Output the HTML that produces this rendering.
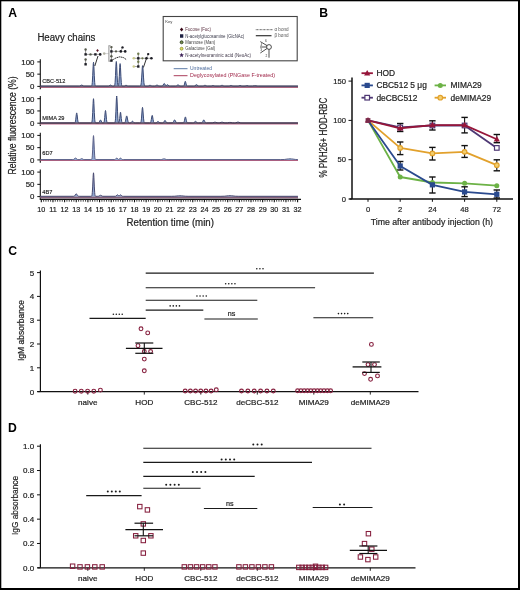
<!DOCTYPE html>
<html><head><meta charset="utf-8"><style>
html,body{margin:0;padding:0;background:#fff;}
svg{display:block;filter:contrast(1.0001);}
text{font-family:"Liberation Sans",sans-serif;}
</style></head><body>
<svg width="520" height="590" viewBox="0 0 520 590" font-family="Liberation Sans, sans-serif">
<rect x="0" y="0" width="520" height="590" fill="#fff"/>
<rect x="0" y="0" width="520" height="1.3" fill="#000"/>
<rect x="0" y="0" width="1.3" height="590" fill="#000"/>
<rect x="518" y="0" width="2" height="590" fill="#000"/>
<rect x="0" y="588" width="520" height="2" fill="#000"/>
<text x="8.20" y="16.90" font-size="12.2" text-anchor="start" fill="#000" font-weight="bold">A</text>
<text x="319.30" y="16.70" font-size="12.2" text-anchor="start" fill="#000" font-weight="bold">B</text>
<text x="8.20" y="254.90" font-size="12.2" text-anchor="start" fill="#000" font-weight="bold">C</text>
<text x="7.90" y="431.80" font-size="12.2" text-anchor="start" fill="#000" font-weight="bold">D</text>
<text x="37.40" y="40.80" font-size="10" text-anchor="start" fill="#222" stroke="#222" stroke-width="0.2" textLength="58" lengthAdjust="spacingAndGlyphs">Heavy chains</text>
<text x="15.60" y="125.50" font-size="10.4" text-anchor="middle" fill="#222" stroke="#222" stroke-width="0.2" textLength="98" lengthAdjust="spacingAndGlyphs" transform="rotate(-90 15.60 125.50)">Relative fluorescence (%)</text>
<line x1="40.30" y1="59.20" x2="40.30" y2="89.20" stroke="#111" stroke-width="1.1"/>
<line x1="37.30" y1="61.90" x2="40.30" y2="61.90" stroke="#111" stroke-width="1"/>
<text x="34.50" y="64.70" font-size="7.9" text-anchor="end" fill="#222" stroke="#222" stroke-width="0.2">100</text>
<line x1="37.30" y1="74.15" x2="40.30" y2="74.15" stroke="#111" stroke-width="1"/>
<text x="34.50" y="76.95" font-size="7.9" text-anchor="end" fill="#222" stroke="#222" stroke-width="0.2">50</text>
<line x1="37.30" y1="86.40" x2="40.30" y2="86.40" stroke="#111" stroke-width="1"/>
<text x="34.50" y="89.20" font-size="7.9" text-anchor="end" fill="#222" stroke="#222" stroke-width="0.2">0</text>
<text x="42.30" y="83.20" font-size="5.6" text-anchor="start" fill="#222" stroke="#222" stroke-width="0.15">CBC-512</text>
<path d="M40.3,87.00 L298,87.00" stroke="#8e3556" stroke-width="1.3" fill="none"/>
<path d="M40.5,86.10 L78.9,86.09 L79.5,86.05 L80.1,85.89 L81.3,85.19 L81.7,85.10 L82.1,85.19 L83.3,85.89 L84.1,86.07 L90.9,86.10 L91.3,86.06 L91.5,85.97 L91.7,85.75 L91.9,85.25 L92.1,84.24 L92.3,82.44 L92.7,75.75 L93.1,66.77 L93.3,63.51 L93.5,62.30 L93.7,63.51 L93.9,66.77 L94.3,75.75 L94.7,82.44 L94.9,84.24 L95.1,85.25 L95.3,85.75 L95.5,85.97 L95.7,86.06 L96.1,86.10 L108.1,86.09 L108.7,86.02 L109.1,85.88 L110.1,85.22 L110.5,85.10 L110.9,85.22 L111.7,85.78 L112.3,86.02 L113.1,86.09 L114.1,86.05 L114.3,85.96 L114.5,85.74 L114.7,85.22 L114.9,84.18 L115.1,82.32 L115.5,75.40 L115.9,66.12 L116.1,62.75 L116.3,61.50 L116.5,62.75 L116.7,66.12 L117.1,75.40 L117.5,82.32 L117.7,84.17 L117.9,85.18 L118.1,85.61 L118.3,85.63 L118.5,85.25 L118.7,84.33 L118.9,82.64 L119.3,76.31 L119.7,67.83 L119.9,64.74 L120.1,63.60 L120.3,64.74 L120.5,67.83 L120.9,76.31 L121.3,82.64 L121.5,84.34 L121.7,85.29 L121.9,85.77 L122.1,85.98 L122.5,86.09 L123.7,86.09 L124.3,86.02 L124.7,85.89 L125.5,85.44 L125.9,85.31 L126.3,85.35 L127.5,85.96 L128.3,86.09 L139.7,86.10 L140.1,86.06 L140.5,85.87 L140.7,85.58 L140.9,85.02 L141.1,84.03 L141.3,82.43 L141.7,77.09 L142.3,67.31 L142.5,65.71 L142.7,65.71 L142.9,67.31 L143.5,77.09 L143.9,82.43 L144.1,84.03 L144.3,85.02 L144.5,85.58 L144.7,85.87 L145.1,86.06 L146.9,86.10 L147.9,86.05 L148.5,85.90 L149.7,85.34 L150.1,85.30 L150.5,85.41 L151.3,85.82 L151.9,86.01 L152.7,86.09 L154.5,86.08 L155.3,85.93 L156.5,85.24 L156.9,85.11 L157.3,85.15 L158.5,85.85 L159.1,86.03 L160.1,86.10 L161.9,86.06 L162.3,85.95 L162.7,85.65 L163.1,85.09 L163.9,83.68 L164.1,83.52 L164.3,83.52 L164.5,83.68 L164.7,83.96 L165.5,85.34 L165.9,85.64 L166.1,85.64 L166.3,85.56 L167.1,84.86 L167.5,84.70 L167.9,84.86 L168.9,85.80 L169.5,86.04 L170.5,86.10 L175.3,86.09 L175.9,86.02 L176.3,85.90 L176.7,85.68 L177.5,85.07 L177.9,84.91 L178.1,84.91 L178.5,85.07 L179.5,85.80 L180.1,86.02 L181.1,86.10 L183.3,86.07 L183.7,85.93 L183.9,85.72 L184.1,85.36 L184.5,84.01 L184.9,82.20 L185.1,81.54 L185.3,81.30 L185.5,81.54 L185.7,82.20 L186.1,84.01 L186.5,85.36 L186.7,85.72 L186.9,85.93 L187.1,86.03 L187.5,86.09 L193.3,86.10 L194.3,86.03 L194.9,85.81 L196.1,84.83 L196.5,84.70 L196.9,84.83 L197.9,85.68 L198.3,85.91 L198.9,86.06 L199.7,86.10 L202.9,86.05 L203.5,85.90 L204.5,85.41 L204.9,85.30 L205.5,85.41 L206.7,85.97 L207.5,86.08 L210.9,86.06 L211.5,85.95 L212.7,85.53 L213.1,85.50 L213.5,85.59 L214.5,85.95 L215.1,86.06 L219.3,86.09 L220.3,85.97 L221.5,85.41 L222.1,85.30 L222.5,85.41 L223.7,85.97 L224.3,86.07 L225.1,86.10 L228.9,86.05 L229.5,85.93 L230.7,85.44 L231.1,85.40 L231.5,85.50 L232.7,85.98 L233.9,86.10 L237.9,86.06 L238.5,85.95 L239.7,85.53 L240.1,85.50 L241.7,86.00 L242.9,86.10 L245.1,86.05 L246.7,85.63 L247.1,85.60 L248.7,86.02 L249.9,86.10 L252.5,86.05 L254.5,85.73 L255.1,85.70 L257.3,86.04 L258.7,86.10 L297.9,86.10 L297.9,86.40 L40.5,86.40 Z" fill="#8fa6cf" stroke="none"/>
<path d="M40.5,86.10 L78.9,86.09 L79.5,86.05 L80.1,85.89 L81.3,85.19 L81.7,85.10 L82.1,85.19 L83.3,85.89 L84.1,86.07 L90.9,86.10 L91.3,86.06 L91.5,85.97 L91.7,85.75 L91.9,85.25 L92.1,84.24 L92.3,82.44 L92.7,75.75 L93.1,66.77 L93.3,63.51 L93.5,62.30 L93.7,63.51 L93.9,66.77 L94.3,75.75 L94.7,82.44 L94.9,84.24 L95.1,85.25 L95.3,85.75 L95.5,85.97 L95.7,86.06 L96.1,86.10 L108.1,86.09 L108.7,86.02 L109.1,85.88 L110.1,85.22 L110.5,85.10 L110.9,85.22 L111.7,85.78 L112.3,86.02 L113.1,86.09 L114.1,86.05 L114.3,85.96 L114.5,85.74 L114.7,85.22 L114.9,84.18 L115.1,82.32 L115.5,75.40 L115.9,66.12 L116.1,62.75 L116.3,61.50 L116.5,62.75 L116.7,66.12 L117.1,75.40 L117.5,82.32 L117.7,84.17 L117.9,85.18 L118.1,85.61 L118.3,85.63 L118.5,85.25 L118.7,84.33 L118.9,82.64 L119.3,76.31 L119.7,67.83 L119.9,64.74 L120.1,63.60 L120.3,64.74 L120.5,67.83 L120.9,76.31 L121.3,82.64 L121.5,84.34 L121.7,85.29 L121.9,85.77 L122.1,85.98 L122.5,86.09 L123.7,86.09 L124.3,86.02 L124.7,85.89 L125.5,85.44 L125.9,85.31 L126.3,85.35 L127.5,85.96 L128.3,86.09 L139.7,86.10 L140.1,86.06 L140.5,85.87 L140.7,85.58 L140.9,85.02 L141.1,84.03 L141.3,82.43 L141.7,77.09 L142.3,67.31 L142.5,65.71 L142.7,65.71 L142.9,67.31 L143.5,77.09 L143.9,82.43 L144.1,84.03 L144.3,85.02 L144.5,85.58 L144.7,85.87 L145.1,86.06 L146.9,86.10 L147.9,86.05 L148.5,85.90 L149.7,85.34 L150.1,85.30 L150.5,85.41 L151.3,85.82 L151.9,86.01 L152.7,86.09 L154.5,86.08 L155.3,85.93 L156.5,85.24 L156.9,85.11 L157.3,85.15 L158.5,85.85 L159.1,86.03 L160.1,86.10 L161.9,86.06 L162.3,85.95 L162.7,85.65 L163.1,85.09 L163.9,83.68 L164.1,83.52 L164.3,83.52 L164.5,83.68 L164.7,83.96 L165.5,85.34 L165.9,85.64 L166.1,85.64 L166.3,85.56 L167.1,84.86 L167.5,84.70 L167.9,84.86 L168.9,85.80 L169.5,86.04 L170.5,86.10 L175.3,86.09 L175.9,86.02 L176.3,85.90 L176.7,85.68 L177.5,85.07 L177.9,84.91 L178.1,84.91 L178.5,85.07 L179.5,85.80 L180.1,86.02 L181.1,86.10 L183.3,86.07 L183.7,85.93 L183.9,85.72 L184.1,85.36 L184.5,84.01 L184.9,82.20 L185.1,81.54 L185.3,81.30 L185.5,81.54 L185.7,82.20 L186.1,84.01 L186.5,85.36 L186.7,85.72 L186.9,85.93 L187.1,86.03 L187.5,86.09 L193.3,86.10 L194.3,86.03 L194.9,85.81 L196.1,84.83 L196.5,84.70 L196.9,84.83 L197.9,85.68 L198.3,85.91 L198.9,86.06 L199.7,86.10 L202.9,86.05 L203.5,85.90 L204.5,85.41 L204.9,85.30 L205.5,85.41 L206.7,85.97 L207.5,86.08 L210.9,86.06 L211.5,85.95 L212.7,85.53 L213.1,85.50 L213.5,85.59 L214.5,85.95 L215.1,86.06 L219.3,86.09 L220.3,85.97 L221.5,85.41 L222.1,85.30 L222.5,85.41 L223.7,85.97 L224.3,86.07 L225.1,86.10 L228.9,86.05 L229.5,85.93 L230.7,85.44 L231.1,85.40 L231.5,85.50 L232.7,85.98 L233.9,86.10 L237.9,86.06 L238.5,85.95 L239.7,85.53 L240.1,85.50 L241.7,86.00 L242.9,86.10 L245.1,86.05 L246.7,85.63 L247.1,85.60 L248.7,86.02 L249.9,86.10 L252.5,86.05 L254.5,85.73 L255.1,85.70 L257.3,86.04 L258.7,86.10 L297.9,86.10" stroke="#3c4a74" stroke-width="1.0" fill="none" stroke-linejoin="round"/>
<path d="M40.3,86.10 L298,86.10" stroke="#4a4050" stroke-width="0.9" fill="none"/>
<line x1="40.30" y1="96.00" x2="40.30" y2="126.00" stroke="#111" stroke-width="1.1"/>
<line x1="37.30" y1="98.70" x2="40.30" y2="98.70" stroke="#111" stroke-width="1"/>
<text x="34.50" y="101.50" font-size="7.9" text-anchor="end" fill="#222" stroke="#222" stroke-width="0.2">100</text>
<line x1="37.30" y1="110.95" x2="40.30" y2="110.95" stroke="#111" stroke-width="1"/>
<text x="34.50" y="113.75" font-size="7.9" text-anchor="end" fill="#222" stroke="#222" stroke-width="0.2">50</text>
<line x1="37.30" y1="123.20" x2="40.30" y2="123.20" stroke="#111" stroke-width="1"/>
<text x="34.50" y="126.00" font-size="7.9" text-anchor="end" fill="#222" stroke="#222" stroke-width="0.2">0</text>
<text x="42.30" y="119.50" font-size="5.6" text-anchor="start" fill="#222" stroke="#222" stroke-width="0.15">MIMA 29</text>
<path d="M40.3,124.30 L298,124.30" stroke="#d8a0b8" stroke-width="1.0" fill="none"/>
<path d="M40.5,122.90 L74.5,122.87 L74.9,122.68 L75.1,122.42 L75.3,121.92 L75.5,121.08 L75.7,119.84 L76.3,114.63 L76.5,113.36 L76.7,112.90 L76.9,113.36 L77.1,114.63 L77.7,119.84 L77.9,121.08 L78.1,121.92 L78.3,122.42 L78.5,122.68 L78.9,122.87 L79.5,122.90 L90.7,122.90 L91.3,122.86 L91.5,122.77 L91.7,122.54 L91.9,122.03 L92.1,121.01 L92.3,119.18 L92.7,112.37 L93.1,103.25 L93.3,99.93 L93.5,98.70 L93.7,99.93 L93.9,103.25 L94.3,112.37 L94.7,119.18 L94.9,121.01 L95.1,122.03 L95.3,122.54 L95.5,122.77 L95.9,122.89 L98.1,122.89 L98.7,122.79 L99.1,122.49 L99.3,122.21 L100.1,120.35 L100.3,120.02 L100.5,119.90 L100.7,120.02 L100.9,120.35 L101.7,122.21 L102.1,122.68 L102.5,122.85 L102.9,122.89 L103.3,122.88 L103.7,122.72 L103.9,122.46 L104.1,121.93 L104.3,120.99 L104.7,117.51 L105.1,112.83 L105.3,111.13 L105.5,110.50 L105.7,111.13 L105.9,112.83 L106.5,119.52 L106.7,120.99 L106.9,121.93 L107.1,122.46 L107.3,122.72 L107.5,122.83 L107.9,122.89 L113.9,122.90 L114.5,122.85 L114.7,122.75 L114.9,122.50 L115.1,121.94 L115.3,120.80 L115.5,118.77 L115.9,111.20 L116.3,101.05 L116.5,97.36 L116.7,96.00 L116.9,97.36 L117.1,101.05 L117.5,111.20 L117.9,118.77 L118.1,120.79 L118.3,121.92 L118.5,122.46 L118.7,122.63 L118.9,122.54 L119.1,122.18 L119.3,121.45 L119.7,118.50 L120.3,112.78 L120.5,112.20 L120.7,112.78 L121.3,118.50 L121.7,121.45 L121.9,122.20 L122.1,122.59 L122.3,122.78 L122.7,122.89 L124.1,122.88 L124.5,122.81 L124.9,122.51 L125.3,121.67 L125.5,120.95 L126.3,116.83 L126.5,116.14 L126.7,115.90 L126.9,116.14 L127.1,116.83 L127.7,120.02 L128.1,121.67 L128.5,122.51 L128.9,122.81 L129.3,122.88 L129.9,122.89 L130.7,122.76 L131.3,122.35 L132.1,121.40 L132.3,121.25 L132.5,121.20 L132.7,121.25 L132.9,121.40 L133.9,122.53 L134.5,122.83 L135.3,122.90 L139.7,122.90 L140.3,122.85 L140.5,122.76 L140.7,122.56 L140.9,122.15 L141.1,121.38 L141.3,120.08 L141.5,118.15 L142.1,110.07 L142.3,108.12 L142.5,107.40 L142.7,108.12 L142.9,110.07 L143.5,118.15 L143.9,121.38 L144.1,122.15 L144.3,122.56 L144.5,122.76 L144.9,122.88 L149.5,122.90 L149.9,122.87 L150.3,122.71 L150.5,122.51 L150.7,122.14 L150.9,121.56 L151.3,119.62 L151.9,116.06 L152.1,115.48 L152.3,115.48 L152.5,116.06 L153.1,119.62 L153.5,121.56 L153.7,122.14 L153.9,122.51 L154.3,122.82 L154.7,122.89 L155.7,122.88 L156.3,122.74 L156.7,122.50 L157.5,121.67 L157.9,121.41 L158.1,121.41 L158.3,121.50 L159.3,122.50 L159.9,122.81 L161.1,122.90 L162.3,122.89 L162.9,122.82 L163.3,122.64 L163.7,122.23 L164.5,120.84 L164.7,120.57 L164.9,120.42 L165.1,120.42 L165.3,120.57 L166.1,121.93 L166.5,122.47 L166.7,122.64 L167.1,122.82 L168.1,122.90 L172.1,122.86 L172.7,122.65 L173.1,122.27 L173.5,121.60 L174.1,120.38 L174.3,120.08 L174.5,119.92 L174.7,119.92 L174.9,120.08 L176.1,122.27 L176.3,122.49 L176.7,122.76 L177.1,122.86 L177.7,122.90 L183.1,122.87 L183.5,122.75 L183.7,122.59 L183.9,122.30 L184.1,121.83 L184.5,120.27 L185.1,117.43 L185.3,116.96 L185.5,116.96 L185.7,117.43 L186.3,120.27 L186.7,121.83 L186.9,122.30 L187.1,122.59 L187.5,122.83 L187.9,122.89 L192.3,122.90 L193.3,122.85 L193.7,122.74 L194.1,122.51 L195.1,121.56 L195.5,121.40 L195.9,121.56 L196.9,122.51 L197.5,122.81 L198.5,122.90 L201.5,122.85 L201.9,122.72 L202.3,122.38 L202.7,121.73 L203.5,120.10 L203.7,119.92 L203.9,119.92 L204.1,120.10 L204.3,120.43 L204.9,121.73 L205.3,122.38 L205.7,122.72 L206.1,122.85 L206.5,122.89 L212.1,122.86 L212.9,122.75 L214.3,122.31 L214.9,122.20 L215.5,122.26 L217.1,122.75 L218.1,122.87 L218.9,122.87 L219.7,122.79 L221.5,122.26 L222.1,122.20 L222.7,122.31 L224.1,122.75 L225.1,122.87 L227.5,122.84 L229.5,122.44 L230.1,122.40 L232.5,122.84 L234.5,122.89 L235.7,122.77 L237.5,122.17 L238.1,122.10 L238.7,122.23 L240.3,122.77 L241.9,122.90 L297.9,122.90 L297.9,123.20 L40.5,123.20 Z" fill="#8fa6cf" stroke="none"/>
<path d="M40.5,122.90 L74.5,122.87 L74.9,122.68 L75.1,122.42 L75.3,121.92 L75.5,121.08 L75.7,119.84 L76.3,114.63 L76.5,113.36 L76.7,112.90 L76.9,113.36 L77.1,114.63 L77.7,119.84 L77.9,121.08 L78.1,121.92 L78.3,122.42 L78.5,122.68 L78.9,122.87 L79.5,122.90 L90.7,122.90 L91.3,122.86 L91.5,122.77 L91.7,122.54 L91.9,122.03 L92.1,121.01 L92.3,119.18 L92.7,112.37 L93.1,103.25 L93.3,99.93 L93.5,98.70 L93.7,99.93 L93.9,103.25 L94.3,112.37 L94.7,119.18 L94.9,121.01 L95.1,122.03 L95.3,122.54 L95.5,122.77 L95.9,122.89 L98.1,122.89 L98.7,122.79 L99.1,122.49 L99.3,122.21 L100.1,120.35 L100.3,120.02 L100.5,119.90 L100.7,120.02 L100.9,120.35 L101.7,122.21 L102.1,122.68 L102.5,122.85 L102.9,122.89 L103.3,122.88 L103.7,122.72 L103.9,122.46 L104.1,121.93 L104.3,120.99 L104.7,117.51 L105.1,112.83 L105.3,111.13 L105.5,110.50 L105.7,111.13 L105.9,112.83 L106.5,119.52 L106.7,120.99 L106.9,121.93 L107.1,122.46 L107.3,122.72 L107.5,122.83 L107.9,122.89 L113.9,122.90 L114.5,122.85 L114.7,122.75 L114.9,122.50 L115.1,121.94 L115.3,120.80 L115.5,118.77 L115.9,111.20 L116.3,101.05 L116.5,97.36 L116.7,96.00 L116.9,97.36 L117.1,101.05 L117.5,111.20 L117.9,118.77 L118.1,120.79 L118.3,121.92 L118.5,122.46 L118.7,122.63 L118.9,122.54 L119.1,122.18 L119.3,121.45 L119.7,118.50 L120.3,112.78 L120.5,112.20 L120.7,112.78 L121.3,118.50 L121.7,121.45 L121.9,122.20 L122.1,122.59 L122.3,122.78 L122.7,122.89 L124.1,122.88 L124.5,122.81 L124.9,122.51 L125.3,121.67 L125.5,120.95 L126.3,116.83 L126.5,116.14 L126.7,115.90 L126.9,116.14 L127.1,116.83 L127.7,120.02 L128.1,121.67 L128.5,122.51 L128.9,122.81 L129.3,122.88 L129.9,122.89 L130.7,122.76 L131.3,122.35 L132.1,121.40 L132.3,121.25 L132.5,121.20 L132.7,121.25 L132.9,121.40 L133.9,122.53 L134.5,122.83 L135.3,122.90 L139.7,122.90 L140.3,122.85 L140.5,122.76 L140.7,122.56 L140.9,122.15 L141.1,121.38 L141.3,120.08 L141.5,118.15 L142.1,110.07 L142.3,108.12 L142.5,107.40 L142.7,108.12 L142.9,110.07 L143.5,118.15 L143.9,121.38 L144.1,122.15 L144.3,122.56 L144.5,122.76 L144.9,122.88 L149.5,122.90 L149.9,122.87 L150.3,122.71 L150.5,122.51 L150.7,122.14 L150.9,121.56 L151.3,119.62 L151.9,116.06 L152.1,115.48 L152.3,115.48 L152.5,116.06 L153.1,119.62 L153.5,121.56 L153.7,122.14 L153.9,122.51 L154.3,122.82 L154.7,122.89 L155.7,122.88 L156.3,122.74 L156.7,122.50 L157.5,121.67 L157.9,121.41 L158.1,121.41 L158.3,121.50 L159.3,122.50 L159.9,122.81 L161.1,122.90 L162.3,122.89 L162.9,122.82 L163.3,122.64 L163.7,122.23 L164.5,120.84 L164.7,120.57 L164.9,120.42 L165.1,120.42 L165.3,120.57 L166.1,121.93 L166.5,122.47 L166.7,122.64 L167.1,122.82 L168.1,122.90 L172.1,122.86 L172.7,122.65 L173.1,122.27 L173.5,121.60 L174.1,120.38 L174.3,120.08 L174.5,119.92 L174.7,119.92 L174.9,120.08 L176.1,122.27 L176.3,122.49 L176.7,122.76 L177.1,122.86 L177.7,122.90 L183.1,122.87 L183.5,122.75 L183.7,122.59 L183.9,122.30 L184.1,121.83 L184.5,120.27 L185.1,117.43 L185.3,116.96 L185.5,116.96 L185.7,117.43 L186.3,120.27 L186.7,121.83 L186.9,122.30 L187.1,122.59 L187.5,122.83 L187.9,122.89 L192.3,122.90 L193.3,122.85 L193.7,122.74 L194.1,122.51 L195.1,121.56 L195.5,121.40 L195.9,121.56 L196.9,122.51 L197.5,122.81 L198.5,122.90 L201.5,122.85 L201.9,122.72 L202.3,122.38 L202.7,121.73 L203.5,120.10 L203.7,119.92 L203.9,119.92 L204.1,120.10 L204.3,120.43 L204.9,121.73 L205.3,122.38 L205.7,122.72 L206.1,122.85 L206.5,122.89 L212.1,122.86 L212.9,122.75 L214.3,122.31 L214.9,122.20 L215.5,122.26 L217.1,122.75 L218.1,122.87 L218.9,122.87 L219.7,122.79 L221.5,122.26 L222.1,122.20 L222.7,122.31 L224.1,122.75 L225.1,122.87 L227.5,122.84 L229.5,122.44 L230.1,122.40 L232.5,122.84 L234.5,122.89 L235.7,122.77 L237.5,122.17 L238.1,122.10 L238.7,122.23 L240.3,122.77 L241.9,122.90 L297.9,122.90" stroke="#3c4a74" stroke-width="1.0" fill="none" stroke-linejoin="round"/>
<path d="M40.3,123.20 L298,123.20" stroke="#4a2a3e" stroke-width="1.3" fill="none"/>
<line x1="40.30" y1="132.70" x2="40.30" y2="162.70" stroke="#111" stroke-width="1.1"/>
<line x1="37.30" y1="135.40" x2="40.30" y2="135.40" stroke="#111" stroke-width="1"/>
<text x="34.50" y="138.20" font-size="7.9" text-anchor="end" fill="#222" stroke="#222" stroke-width="0.2">100</text>
<line x1="37.30" y1="147.65" x2="40.30" y2="147.65" stroke="#111" stroke-width="1"/>
<text x="34.50" y="150.45" font-size="7.9" text-anchor="end" fill="#222" stroke="#222" stroke-width="0.2">50</text>
<line x1="37.30" y1="159.90" x2="40.30" y2="159.90" stroke="#111" stroke-width="1"/>
<text x="34.50" y="162.70" font-size="7.9" text-anchor="end" fill="#222" stroke="#222" stroke-width="0.2">0</text>
<text x="42.30" y="155.10" font-size="5.6" text-anchor="start" fill="#222" stroke="#222" stroke-width="0.15">6D7</text>
<path d="M40.3,160.40 L298,160.40" stroke="#b06080" stroke-width="1.2" fill="none"/>
<path d="M40.5,159.60 L72.7,159.59 L73.3,159.52 L73.9,159.29 L75.1,158.24 L75.5,158.10 L75.9,158.24 L77.1,159.29 L77.5,159.47 L78.1,159.58 L79.1,159.58 L79.9,159.46 L80.3,159.30 L81.3,158.69 L81.7,158.60 L82.1,158.69 L83.3,159.39 L84.1,159.57 L90.9,159.60 L91.3,159.56 L91.5,159.47 L91.7,159.25 L91.9,158.74 L92.1,157.72 L92.3,155.91 L92.7,149.16 L93.1,140.11 L93.3,136.82 L93.5,135.60 L93.7,136.82 L93.9,140.11 L94.3,149.16 L94.7,155.91 L94.9,157.72 L95.1,158.74 L95.3,159.25 L95.5,159.47 L95.9,159.59 L114.3,159.58 L114.9,159.48 L115.3,159.28 L116.3,158.28 L116.7,158.10 L117.1,158.28 L118.1,159.26 L118.5,159.41 L118.7,159.41 L119.1,159.26 L120.1,158.28 L120.5,158.10 L120.9,158.28 L121.7,159.11 L122.1,159.40 L122.7,159.57 L123.5,159.60 L160.3,159.59 L161.7,159.47 L163.3,158.93 L163.9,158.80 L164.5,158.87 L166.3,159.47 L167.1,159.57 L168.1,159.60 L280.7,159.59 L284.3,159.47 L288.5,158.89 L289.9,158.80 L291.5,158.89 L295.3,159.43 L297.9,159.58 L297.9,159.90 L40.5,159.90 Z" fill="#8fa6cf" stroke="none"/>
<path d="M40.5,159.60 L72.7,159.59 L73.3,159.52 L73.9,159.29 L75.1,158.24 L75.5,158.10 L75.9,158.24 L77.1,159.29 L77.5,159.47 L78.1,159.58 L79.1,159.58 L79.9,159.46 L80.3,159.30 L81.3,158.69 L81.7,158.60 L82.1,158.69 L83.3,159.39 L84.1,159.57 L90.9,159.60 L91.3,159.56 L91.5,159.47 L91.7,159.25 L91.9,158.74 L92.1,157.72 L92.3,155.91 L92.7,149.16 L93.1,140.11 L93.3,136.82 L93.5,135.60 L93.7,136.82 L93.9,140.11 L94.3,149.16 L94.7,155.91 L94.9,157.72 L95.1,158.74 L95.3,159.25 L95.5,159.47 L95.9,159.59 L114.3,159.58 L114.9,159.48 L115.3,159.28 L116.3,158.28 L116.7,158.10 L117.1,158.28 L118.1,159.26 L118.5,159.41 L118.7,159.41 L119.1,159.26 L120.1,158.28 L120.5,158.10 L120.9,158.28 L121.7,159.11 L122.1,159.40 L122.7,159.57 L123.5,159.60 L160.3,159.59 L161.7,159.47 L163.3,158.93 L163.9,158.80 L164.5,158.87 L166.3,159.47 L167.1,159.57 L168.1,159.60 L280.7,159.59 L284.3,159.47 L288.5,158.89 L289.9,158.80 L291.5,158.89 L295.3,159.43 L297.9,159.58" stroke="#5a6088" stroke-width="1.0" fill="none" stroke-linejoin="round"/>
<line x1="40.30" y1="169.40" x2="40.30" y2="199.60" stroke="#111" stroke-width="1.1"/>
<line x1="37.30" y1="172.10" x2="40.30" y2="172.10" stroke="#111" stroke-width="1"/>
<text x="34.50" y="174.90" font-size="7.9" text-anchor="end" fill="#222" stroke="#222" stroke-width="0.2">100</text>
<line x1="37.30" y1="184.35" x2="40.30" y2="184.35" stroke="#111" stroke-width="1"/>
<text x="34.50" y="187.15" font-size="7.9" text-anchor="end" fill="#222" stroke="#222" stroke-width="0.2">50</text>
<line x1="37.30" y1="196.60" x2="40.30" y2="196.60" stroke="#111" stroke-width="1"/>
<text x="34.50" y="199.40" font-size="7.9" text-anchor="end" fill="#222" stroke="#222" stroke-width="0.2">0</text>
<text x="42.30" y="193.50" font-size="5.6" text-anchor="start" fill="#222" stroke="#222" stroke-width="0.15">4B7</text>
<path d="M40.3,197.30 L298,197.30" stroke="#85607a" stroke-width="2.2" fill="none"/>
<path d="M40.5,196.30 L73.5,196.27 L74.1,196.14 L74.5,195.88 L74.9,195.42 L75.7,194.16 L76.1,193.82 L76.3,193.82 L76.7,194.16 L77.5,195.42 L77.9,195.88 L78.3,196.14 L78.7,196.25 L79.7,196.30 L90.7,196.30 L91.3,196.26 L91.5,196.17 L91.7,195.95 L91.9,195.46 L92.1,194.46 L92.3,192.69 L92.7,186.08 L93.1,177.22 L93.3,173.99 L93.5,172.80 L93.7,173.99 L93.9,177.22 L94.3,186.08 L94.7,192.69 L94.9,194.46 L95.1,195.46 L95.3,195.95 L95.5,196.17 L95.9,196.29 L97.7,196.29 L98.5,196.22 L99.1,196.00 L100.1,195.39 L100.5,195.30 L100.9,195.39 L102.1,196.09 L102.9,196.27 L115.1,196.28 L115.7,196.18 L116.1,195.98 L117.1,194.98 L117.3,194.85 L117.5,194.80 L117.7,194.84 L118.7,195.69 L119.1,195.77 L119.5,195.55 L120.1,194.97 L120.5,194.80 L120.9,194.98 L121.7,195.81 L122.1,196.10 L122.7,196.27 L123.5,196.30 L171.5,196.29 L174.5,196.21 L178.5,195.86 L179.9,195.80 L181.5,195.86 L185.5,196.21 L188.1,196.29 L220.9,196.29 L224.3,196.20 L228.5,195.77 L230.1,195.70 L231.5,195.77 L235.5,196.19 L238.7,196.29 L297.9,196.30 L297.9,196.60 L40.5,196.60 Z" fill="#8fa6cf" stroke="none"/>
<path d="M40.5,196.30 L73.5,196.27 L74.1,196.14 L74.5,195.88 L74.9,195.42 L75.7,194.16 L76.1,193.82 L76.3,193.82 L76.7,194.16 L77.5,195.42 L77.9,195.88 L78.3,196.14 L78.7,196.25 L79.7,196.30 L90.7,196.30 L91.3,196.26 L91.5,196.17 L91.7,195.95 L91.9,195.46 L92.1,194.46 L92.3,192.69 L92.7,186.08 L93.1,177.22 L93.3,173.99 L93.5,172.80 L93.7,173.99 L93.9,177.22 L94.3,186.08 L94.7,192.69 L94.9,194.46 L95.1,195.46 L95.3,195.95 L95.5,196.17 L95.9,196.29 L97.7,196.29 L98.5,196.22 L99.1,196.00 L100.1,195.39 L100.5,195.30 L100.9,195.39 L102.1,196.09 L102.9,196.27 L115.1,196.28 L115.7,196.18 L116.1,195.98 L117.1,194.98 L117.3,194.85 L117.5,194.80 L117.7,194.84 L118.7,195.69 L119.1,195.77 L119.5,195.55 L120.1,194.97 L120.5,194.80 L120.9,194.98 L121.7,195.81 L122.1,196.10 L122.7,196.27 L123.5,196.30 L171.5,196.29 L174.5,196.21 L178.5,195.86 L179.9,195.80 L181.5,195.86 L185.5,196.21 L188.1,196.29 L220.9,196.29 L224.3,196.20 L228.5,195.77 L230.1,195.70 L231.5,195.77 L235.5,196.19 L238.7,196.29 L297.9,196.30" stroke="#4a4a70" stroke-width="1.0" fill="none" stroke-linejoin="round"/>
<line x1="39.80" y1="199.40" x2="301.00" y2="199.40" stroke="#111" stroke-width="1.2"/>
<line x1="41.30" y1="199.40" x2="41.30" y2="202.30" stroke="#111" stroke-width="1.1"/>
<text x="41.30" y="212.00" font-size="7.2" text-anchor="middle" fill="#222" stroke="#222" stroke-width="0.2">10</text>
<line x1="43.63" y1="199.40" x2="43.63" y2="201.70" stroke="#222" stroke-width="0.85"/>
<line x1="45.96" y1="199.40" x2="45.96" y2="201.70" stroke="#222" stroke-width="0.85"/>
<line x1="48.29" y1="199.40" x2="48.29" y2="201.70" stroke="#222" stroke-width="0.85"/>
<line x1="50.62" y1="199.40" x2="50.62" y2="201.70" stroke="#222" stroke-width="0.85"/>
<line x1="52.95" y1="199.40" x2="52.95" y2="202.30" stroke="#111" stroke-width="1.1"/>
<text x="52.95" y="212.00" font-size="7.2" text-anchor="middle" fill="#222" stroke="#222" stroke-width="0.2">11</text>
<line x1="55.28" y1="199.40" x2="55.28" y2="201.70" stroke="#222" stroke-width="0.85"/>
<line x1="57.61" y1="199.40" x2="57.61" y2="201.70" stroke="#222" stroke-width="0.85"/>
<line x1="59.94" y1="199.40" x2="59.94" y2="201.70" stroke="#222" stroke-width="0.85"/>
<line x1="62.27" y1="199.40" x2="62.27" y2="201.70" stroke="#222" stroke-width="0.85"/>
<line x1="64.60" y1="199.40" x2="64.60" y2="202.30" stroke="#111" stroke-width="1.1"/>
<text x="64.60" y="212.00" font-size="7.2" text-anchor="middle" fill="#222" stroke="#222" stroke-width="0.2">12</text>
<line x1="66.93" y1="199.40" x2="66.93" y2="201.70" stroke="#222" stroke-width="0.85"/>
<line x1="69.26" y1="199.40" x2="69.26" y2="201.70" stroke="#222" stroke-width="0.85"/>
<line x1="71.59" y1="199.40" x2="71.59" y2="201.70" stroke="#222" stroke-width="0.85"/>
<line x1="73.92" y1="199.40" x2="73.92" y2="201.70" stroke="#222" stroke-width="0.85"/>
<line x1="76.25" y1="199.40" x2="76.25" y2="202.30" stroke="#111" stroke-width="1.1"/>
<text x="76.25" y="212.00" font-size="7.2" text-anchor="middle" fill="#222" stroke="#222" stroke-width="0.2">13</text>
<line x1="78.58" y1="199.40" x2="78.58" y2="201.70" stroke="#222" stroke-width="0.85"/>
<line x1="80.91" y1="199.40" x2="80.91" y2="201.70" stroke="#222" stroke-width="0.85"/>
<line x1="83.24" y1="199.40" x2="83.24" y2="201.70" stroke="#222" stroke-width="0.85"/>
<line x1="85.57" y1="199.40" x2="85.57" y2="201.70" stroke="#222" stroke-width="0.85"/>
<line x1="87.90" y1="199.40" x2="87.90" y2="202.30" stroke="#111" stroke-width="1.1"/>
<text x="87.90" y="212.00" font-size="7.2" text-anchor="middle" fill="#222" stroke="#222" stroke-width="0.2">14</text>
<line x1="90.23" y1="199.40" x2="90.23" y2="201.70" stroke="#222" stroke-width="0.85"/>
<line x1="92.56" y1="199.40" x2="92.56" y2="201.70" stroke="#222" stroke-width="0.85"/>
<line x1="94.89" y1="199.40" x2="94.89" y2="201.70" stroke="#222" stroke-width="0.85"/>
<line x1="97.22" y1="199.40" x2="97.22" y2="201.70" stroke="#222" stroke-width="0.85"/>
<line x1="99.55" y1="199.40" x2="99.55" y2="202.30" stroke="#111" stroke-width="1.1"/>
<text x="99.55" y="212.00" font-size="7.2" text-anchor="middle" fill="#222" stroke="#222" stroke-width="0.2">15</text>
<line x1="101.88" y1="199.40" x2="101.88" y2="201.70" stroke="#222" stroke-width="0.85"/>
<line x1="104.21" y1="199.40" x2="104.21" y2="201.70" stroke="#222" stroke-width="0.85"/>
<line x1="106.54" y1="199.40" x2="106.54" y2="201.70" stroke="#222" stroke-width="0.85"/>
<line x1="108.87" y1="199.40" x2="108.87" y2="201.70" stroke="#222" stroke-width="0.85"/>
<line x1="111.20" y1="199.40" x2="111.20" y2="202.30" stroke="#111" stroke-width="1.1"/>
<text x="111.20" y="212.00" font-size="7.2" text-anchor="middle" fill="#222" stroke="#222" stroke-width="0.2">16</text>
<line x1="113.53" y1="199.40" x2="113.53" y2="201.70" stroke="#222" stroke-width="0.85"/>
<line x1="115.86" y1="199.40" x2="115.86" y2="201.70" stroke="#222" stroke-width="0.85"/>
<line x1="118.19" y1="199.40" x2="118.19" y2="201.70" stroke="#222" stroke-width="0.85"/>
<line x1="120.52" y1="199.40" x2="120.52" y2="201.70" stroke="#222" stroke-width="0.85"/>
<line x1="122.85" y1="199.40" x2="122.85" y2="202.30" stroke="#111" stroke-width="1.1"/>
<text x="122.85" y="212.00" font-size="7.2" text-anchor="middle" fill="#222" stroke="#222" stroke-width="0.2">17</text>
<line x1="125.18" y1="199.40" x2="125.18" y2="201.70" stroke="#222" stroke-width="0.85"/>
<line x1="127.51" y1="199.40" x2="127.51" y2="201.70" stroke="#222" stroke-width="0.85"/>
<line x1="129.84" y1="199.40" x2="129.84" y2="201.70" stroke="#222" stroke-width="0.85"/>
<line x1="132.17" y1="199.40" x2="132.17" y2="201.70" stroke="#222" stroke-width="0.85"/>
<line x1="134.50" y1="199.40" x2="134.50" y2="202.30" stroke="#111" stroke-width="1.1"/>
<text x="134.50" y="212.00" font-size="7.2" text-anchor="middle" fill="#222" stroke="#222" stroke-width="0.2">18</text>
<line x1="136.83" y1="199.40" x2="136.83" y2="201.70" stroke="#222" stroke-width="0.85"/>
<line x1="139.16" y1="199.40" x2="139.16" y2="201.70" stroke="#222" stroke-width="0.85"/>
<line x1="141.49" y1="199.40" x2="141.49" y2="201.70" stroke="#222" stroke-width="0.85"/>
<line x1="143.82" y1="199.40" x2="143.82" y2="201.70" stroke="#222" stroke-width="0.85"/>
<line x1="146.15" y1="199.40" x2="146.15" y2="202.30" stroke="#111" stroke-width="1.1"/>
<text x="146.15" y="212.00" font-size="7.2" text-anchor="middle" fill="#222" stroke="#222" stroke-width="0.2">19</text>
<line x1="148.48" y1="199.40" x2="148.48" y2="201.70" stroke="#222" stroke-width="0.85"/>
<line x1="150.81" y1="199.40" x2="150.81" y2="201.70" stroke="#222" stroke-width="0.85"/>
<line x1="153.14" y1="199.40" x2="153.14" y2="201.70" stroke="#222" stroke-width="0.85"/>
<line x1="155.47" y1="199.40" x2="155.47" y2="201.70" stroke="#222" stroke-width="0.85"/>
<line x1="157.80" y1="199.40" x2="157.80" y2="202.30" stroke="#111" stroke-width="1.1"/>
<text x="157.80" y="212.00" font-size="7.2" text-anchor="middle" fill="#222" stroke="#222" stroke-width="0.2">20</text>
<line x1="160.13" y1="199.40" x2="160.13" y2="201.70" stroke="#222" stroke-width="0.85"/>
<line x1="162.46" y1="199.40" x2="162.46" y2="201.70" stroke="#222" stroke-width="0.85"/>
<line x1="164.79" y1="199.40" x2="164.79" y2="201.70" stroke="#222" stroke-width="0.85"/>
<line x1="167.12" y1="199.40" x2="167.12" y2="201.70" stroke="#222" stroke-width="0.85"/>
<line x1="169.45" y1="199.40" x2="169.45" y2="202.30" stroke="#111" stroke-width="1.1"/>
<text x="169.45" y="212.00" font-size="7.2" text-anchor="middle" fill="#222" stroke="#222" stroke-width="0.2">21</text>
<line x1="171.78" y1="199.40" x2="171.78" y2="201.70" stroke="#222" stroke-width="0.85"/>
<line x1="174.11" y1="199.40" x2="174.11" y2="201.70" stroke="#222" stroke-width="0.85"/>
<line x1="176.44" y1="199.40" x2="176.44" y2="201.70" stroke="#222" stroke-width="0.85"/>
<line x1="178.77" y1="199.40" x2="178.77" y2="201.70" stroke="#222" stroke-width="0.85"/>
<line x1="181.10" y1="199.40" x2="181.10" y2="202.30" stroke="#111" stroke-width="1.1"/>
<text x="181.10" y="212.00" font-size="7.2" text-anchor="middle" fill="#222" stroke="#222" stroke-width="0.2">22</text>
<line x1="183.43" y1="199.40" x2="183.43" y2="201.70" stroke="#222" stroke-width="0.85"/>
<line x1="185.76" y1="199.40" x2="185.76" y2="201.70" stroke="#222" stroke-width="0.85"/>
<line x1="188.09" y1="199.40" x2="188.09" y2="201.70" stroke="#222" stroke-width="0.85"/>
<line x1="190.42" y1="199.40" x2="190.42" y2="201.70" stroke="#222" stroke-width="0.85"/>
<line x1="192.75" y1="199.40" x2="192.75" y2="202.30" stroke="#111" stroke-width="1.1"/>
<text x="192.75" y="212.00" font-size="7.2" text-anchor="middle" fill="#222" stroke="#222" stroke-width="0.2">23</text>
<line x1="195.08" y1="199.40" x2="195.08" y2="201.70" stroke="#222" stroke-width="0.85"/>
<line x1="197.41" y1="199.40" x2="197.41" y2="201.70" stroke="#222" stroke-width="0.85"/>
<line x1="199.74" y1="199.40" x2="199.74" y2="201.70" stroke="#222" stroke-width="0.85"/>
<line x1="202.07" y1="199.40" x2="202.07" y2="201.70" stroke="#222" stroke-width="0.85"/>
<line x1="204.40" y1="199.40" x2="204.40" y2="202.30" stroke="#111" stroke-width="1.1"/>
<text x="204.40" y="212.00" font-size="7.2" text-anchor="middle" fill="#222" stroke="#222" stroke-width="0.2">24</text>
<line x1="206.73" y1="199.40" x2="206.73" y2="201.70" stroke="#222" stroke-width="0.85"/>
<line x1="209.06" y1="199.40" x2="209.06" y2="201.70" stroke="#222" stroke-width="0.85"/>
<line x1="211.39" y1="199.40" x2="211.39" y2="201.70" stroke="#222" stroke-width="0.85"/>
<line x1="213.72" y1="199.40" x2="213.72" y2="201.70" stroke="#222" stroke-width="0.85"/>
<line x1="216.05" y1="199.40" x2="216.05" y2="202.30" stroke="#111" stroke-width="1.1"/>
<text x="216.05" y="212.00" font-size="7.2" text-anchor="middle" fill="#222" stroke="#222" stroke-width="0.2">25</text>
<line x1="218.38" y1="199.40" x2="218.38" y2="201.70" stroke="#222" stroke-width="0.85"/>
<line x1="220.71" y1="199.40" x2="220.71" y2="201.70" stroke="#222" stroke-width="0.85"/>
<line x1="223.04" y1="199.40" x2="223.04" y2="201.70" stroke="#222" stroke-width="0.85"/>
<line x1="225.37" y1="199.40" x2="225.37" y2="201.70" stroke="#222" stroke-width="0.85"/>
<line x1="227.70" y1="199.40" x2="227.70" y2="202.30" stroke="#111" stroke-width="1.1"/>
<text x="227.70" y="212.00" font-size="7.2" text-anchor="middle" fill="#222" stroke="#222" stroke-width="0.2">26</text>
<line x1="230.03" y1="199.40" x2="230.03" y2="201.70" stroke="#222" stroke-width="0.85"/>
<line x1="232.36" y1="199.40" x2="232.36" y2="201.70" stroke="#222" stroke-width="0.85"/>
<line x1="234.69" y1="199.40" x2="234.69" y2="201.70" stroke="#222" stroke-width="0.85"/>
<line x1="237.02" y1="199.40" x2="237.02" y2="201.70" stroke="#222" stroke-width="0.85"/>
<line x1="239.35" y1="199.40" x2="239.35" y2="202.30" stroke="#111" stroke-width="1.1"/>
<text x="239.35" y="212.00" font-size="7.2" text-anchor="middle" fill="#222" stroke="#222" stroke-width="0.2">27</text>
<line x1="241.68" y1="199.40" x2="241.68" y2="201.70" stroke="#222" stroke-width="0.85"/>
<line x1="244.01" y1="199.40" x2="244.01" y2="201.70" stroke="#222" stroke-width="0.85"/>
<line x1="246.34" y1="199.40" x2="246.34" y2="201.70" stroke="#222" stroke-width="0.85"/>
<line x1="248.67" y1="199.40" x2="248.67" y2="201.70" stroke="#222" stroke-width="0.85"/>
<line x1="251.00" y1="199.40" x2="251.00" y2="202.30" stroke="#111" stroke-width="1.1"/>
<text x="251.00" y="212.00" font-size="7.2" text-anchor="middle" fill="#222" stroke="#222" stroke-width="0.2">28</text>
<line x1="253.33" y1="199.40" x2="253.33" y2="201.70" stroke="#222" stroke-width="0.85"/>
<line x1="255.66" y1="199.40" x2="255.66" y2="201.70" stroke="#222" stroke-width="0.85"/>
<line x1="257.99" y1="199.40" x2="257.99" y2="201.70" stroke="#222" stroke-width="0.85"/>
<line x1="260.32" y1="199.40" x2="260.32" y2="201.70" stroke="#222" stroke-width="0.85"/>
<line x1="262.65" y1="199.40" x2="262.65" y2="202.30" stroke="#111" stroke-width="1.1"/>
<text x="262.65" y="212.00" font-size="7.2" text-anchor="middle" fill="#222" stroke="#222" stroke-width="0.2">29</text>
<line x1="264.98" y1="199.40" x2="264.98" y2="201.70" stroke="#222" stroke-width="0.85"/>
<line x1="267.31" y1="199.40" x2="267.31" y2="201.70" stroke="#222" stroke-width="0.85"/>
<line x1="269.64" y1="199.40" x2="269.64" y2="201.70" stroke="#222" stroke-width="0.85"/>
<line x1="271.97" y1="199.40" x2="271.97" y2="201.70" stroke="#222" stroke-width="0.85"/>
<line x1="274.30" y1="199.40" x2="274.30" y2="202.30" stroke="#111" stroke-width="1.1"/>
<text x="274.30" y="212.00" font-size="7.2" text-anchor="middle" fill="#222" stroke="#222" stroke-width="0.2">30</text>
<line x1="276.63" y1="199.40" x2="276.63" y2="201.70" stroke="#222" stroke-width="0.85"/>
<line x1="278.96" y1="199.40" x2="278.96" y2="201.70" stroke="#222" stroke-width="0.85"/>
<line x1="281.29" y1="199.40" x2="281.29" y2="201.70" stroke="#222" stroke-width="0.85"/>
<line x1="283.62" y1="199.40" x2="283.62" y2="201.70" stroke="#222" stroke-width="0.85"/>
<line x1="285.95" y1="199.40" x2="285.95" y2="202.30" stroke="#111" stroke-width="1.1"/>
<text x="285.95" y="212.00" font-size="7.2" text-anchor="middle" fill="#222" stroke="#222" stroke-width="0.2">31</text>
<line x1="288.28" y1="199.40" x2="288.28" y2="201.70" stroke="#222" stroke-width="0.85"/>
<line x1="290.61" y1="199.40" x2="290.61" y2="201.70" stroke="#222" stroke-width="0.85"/>
<line x1="292.94" y1="199.40" x2="292.94" y2="201.70" stroke="#222" stroke-width="0.85"/>
<line x1="295.27" y1="199.40" x2="295.27" y2="201.70" stroke="#222" stroke-width="0.85"/>
<line x1="297.60" y1="199.40" x2="297.60" y2="202.30" stroke="#111" stroke-width="1.1"/>
<text x="297.60" y="212.00" font-size="7.2" text-anchor="middle" fill="#222" stroke="#222" stroke-width="0.2">32</text>
<text x="170.30" y="226.40" font-size="10.1" text-anchor="middle" fill="#222" stroke="#222" stroke-width="0.2" textLength="87.4" lengthAdjust="spacingAndGlyphs">Retention time (min)</text>
<line x1="85.60" y1="49.50" x2="85.60" y2="54.40" stroke="#444" stroke-width="0.6"/>
<line x1="85.60" y1="59.50" x2="85.60" y2="64.30" stroke="#444" stroke-width="0.6"/>
<line x1="85.60" y1="54.40" x2="100.20" y2="54.40" stroke="#666" stroke-width="0.6"/>
<circle cx="85.60" cy="49.50" r="1.2" fill="#55584a"/>
<circle cx="85.60" cy="59.50" r="1.2" fill="#55584a"/>
<circle cx="90.50" cy="54.40" r="1.2" fill="#55584a"/>
<rect x="84.40" y="53.20" width="2.4" height="2.4" fill="#1c1c24"/>
<rect x="84.40" y="63.10" width="2.4" height="2.4" fill="#1c1c24"/>
<rect x="94.20" y="53.20" width="2.4" height="2.4" fill="#1c1c24"/>
<circle cx="100.20" cy="54.40" r="1.3" fill="#1c1c24"/>
<path d="M97.5,49.1 L98.8,50.5 L97.5,51.9 L96.2,50.5 Z" fill="#5a1828"/>
<line x1="98.00" y1="56.00" x2="94.80" y2="66.00" stroke="#1a1a1a" stroke-width="0.9"/>
<circle cx="104.20" cy="53.60" r="1.3" fill="#b8b8a8"/>
<line x1="104.20" y1="53.60" x2="108.90" y2="53.60" stroke="#aaa" stroke-width="0.5"/>
<path d="M110.6,45.8 L108.9,45.8 L108.9,61.1 L110.6,61.1" stroke="#999" stroke-width="1.1" fill="none"/>
<line x1="111.40" y1="47.10" x2="111.40" y2="60.60" stroke="#444" stroke-width="0.6"/>
<line x1="111.40" y1="51.40" x2="125.20" y2="51.40" stroke="#666" stroke-width="0.6"/>
<line x1="120.80" y1="51.40" x2="122.50" y2="47.40" stroke="#666" stroke-width="0.5"/>
<circle cx="111.40" cy="47.10" r="1.2" fill="#55584a"/>
<rect x="110.20" y="50.20" width="2.4" height="2.4" fill="#1c1c24"/>
<circle cx="111.40" cy="56.30" r="1.2" fill="#55584a"/>
<rect x="110.20" y="59.40" width="2.4" height="2.4" fill="#1c1c24"/>
<circle cx="116.00" cy="51.40" r="1.1" fill="#55584a"/>
<circle cx="120.80" cy="51.40" r="1.3" fill="#1c1c24"/>
<circle cx="125.20" cy="51.40" r="1.3" fill="#1c1c24"/>
<circle cx="122.50" cy="47.40" r="1.2" fill="#1c1c24"/>
<path d="M111.4,60.6 L116,57.9 L119.8,56.8 L123.5,57.6 L126.2,59.5" stroke="#1a1a1a" stroke-width="0.9" fill="none" stroke-dasharray="1.6 0.5"/>
<line x1="138.30" y1="53.70" x2="138.30" y2="66.50" stroke="#444" stroke-width="0.6"/>
<line x1="133.80" y1="58.30" x2="151.40" y2="58.30" stroke="#666" stroke-width="0.6"/>
<line x1="133.80" y1="66.50" x2="138.30" y2="66.50" stroke="#666" stroke-width="0.6"/>
<line x1="146.50" y1="58.30" x2="148.20" y2="54.10" stroke="#666" stroke-width="0.5"/>
<circle cx="138.30" cy="53.70" r="1.2" fill="#6e7a4c"/>
<rect x="137.10" y="57.10" width="2.4" height="2.4" fill="#1c1c24"/>
<circle cx="138.30" cy="61.80" r="1.2" fill="#6e7a4c"/>
<rect x="137.10" y="65.30" width="2.4" height="2.4" fill="#1c1c24"/>
<circle cx="133.80" cy="58.30" r="1.3" fill="#c9c98c"/>
<circle cx="133.80" cy="66.50" r="1.3" fill="#c9c98c"/>
<circle cx="142.40" cy="58.30" r="1.1" fill="#6e7a4c"/>
<circle cx="146.50" cy="58.30" r="1.3" fill="#1c1c24"/>
<circle cx="151.40" cy="58.30" r="1.3" fill="#1c1c24"/>
<circle cx="148.20" cy="54.10" r="1.2" fill="#1c1c24"/>
<line x1="146.50" y1="58.30" x2="143.40" y2="67.50" stroke="#1a1a1a" stroke-width="0.9"/>
<rect x="163.2" y="16.5" width="134" height="44.3" fill="none" stroke="#444" stroke-width="1.1"/>
<text x="165.20" y="23.20" font-size="4.2" text-anchor="start" fill="#444">Key</text>
<text x="185.30" y="31.30" font-size="4.8" text-anchor="start" fill="#5a3040" textLength="25.6" lengthAdjust="spacingAndGlyphs">Fucose (Fuc)</text>
<text x="185.30" y="37.70" font-size="4.8" text-anchor="start" fill="#3a3a4a" textLength="59.0" lengthAdjust="spacingAndGlyphs">N-acetylglucosamine (GlcNAc)</text>
<text x="185.30" y="44.00" font-size="4.8" text-anchor="start" fill="#404040" textLength="29.9" lengthAdjust="spacingAndGlyphs">Mannose (Man)</text>
<text x="185.30" y="50.40" font-size="4.8" text-anchor="start" fill="#4a4a4a" textLength="29.9" lengthAdjust="spacingAndGlyphs">Galactose (Gal)</text>
<text x="185.30" y="56.70" font-size="4.8" text-anchor="start" fill="#40384a" textLength="65.6" lengthAdjust="spacingAndGlyphs">N-acetylneuraminic acid (NeuAc)</text>
<path d="M181.6,27.6 L183.3,29.6 L181.6,31.6 L179.9,29.6 Z" fill="#3a0a1a"/>
<rect x="180" y="34.25" width="3.3" height="3.5" fill="#1e2244"/>
<circle cx="181.6" cy="42.3" r="1.45" fill="#7a9050" stroke="#2e3e22" stroke-width="0.9"/>
<circle cx="181.6" cy="48.7" r="1.45" fill="#e0e060" stroke="#8a8a30" stroke-width="0.8"/>
<polygon points="181.60,52.70 182.25,54.31 183.98,54.43 182.65,55.54 183.07,57.22 181.60,56.30 180.13,57.22 180.55,55.54 179.22,54.43 180.95,54.31" fill="#3e2258"/>
<line x1="255.80" y1="29.70" x2="273.00" y2="29.70" stroke="#333" stroke-width="0.9" stroke-dasharray="0.8 0.6"/>
<text x="274.40" y="31.30" font-size="4.6" text-anchor="start" fill="#555">α bond</text>
<line x1="255.80" y1="35.70" x2="271.50" y2="35.70" stroke="#333" stroke-width="1.2"/>
<text x="274.40" y="37.40" font-size="4.6" text-anchor="start" fill="#555">β bond</text>
<circle cx="269" cy="47" r="2.4" fill="#fff" stroke="#222" stroke-width="0.8"/>
<line x1="267.00" y1="45.60" x2="260.30" y2="41.60" stroke="#222" stroke-width="0.8"/>
<line x1="266.60" y1="47.00" x2="260.00" y2="47.00" stroke="#222" stroke-width="0.8"/>
<line x1="267.00" y1="48.50" x2="260.30" y2="53.00" stroke="#222" stroke-width="0.8"/>
<line x1="269.00" y1="49.40" x2="269.00" y2="57.70" stroke="#222" stroke-width="0.8"/>
<text x="265.00" y="41.50" font-size="3.2" text-anchor="start" fill="#333">6</text>
<text x="260.50" y="45.60" font-size="3.2" text-anchor="start" fill="#333">4</text>
<text x="260.30" y="51.00" font-size="3.2" text-anchor="start" fill="#333">3</text>
<text x="265.50" y="57.00" font-size="3.2" text-anchor="start" fill="#333">2</text>
<line x1="173.70" y1="68.70" x2="187.50" y2="68.70" stroke="#4a6a9c" stroke-width="0.9"/>
<text x="190.00" y="70.40" font-size="5" text-anchor="start" fill="#4a6a9c">Untreated</text>
<line x1="173.70" y1="75.70" x2="187.50" y2="75.70" stroke="#a0284a" stroke-width="0.9"/>
<text x="190.00" y="77.40" font-size="5" text-anchor="start" fill="#a0284a" textLength="85" lengthAdjust="spacingAndGlyphs">Deglycosylated (PNGase F-treated)</text>
<line x1="352.00" y1="77.50" x2="352.00" y2="199.00" stroke="#111" stroke-width="1.5"/>
<line x1="349.50" y1="199.00" x2="513.00" y2="199.00" stroke="#111" stroke-width="1.5"/>
<line x1="348.50" y1="199.00" x2="352.00" y2="199.00" stroke="#111" stroke-width="1"/>
<text x="345.90" y="201.60" font-size="7.6" text-anchor="end" fill="#222" stroke="#222" stroke-width="0.2">0</text>
<line x1="348.50" y1="159.70" x2="352.00" y2="159.70" stroke="#111" stroke-width="1"/>
<text x="345.90" y="162.30" font-size="7.6" text-anchor="end" fill="#222" stroke="#222" stroke-width="0.2">50</text>
<line x1="348.50" y1="120.40" x2="352.00" y2="120.40" stroke="#111" stroke-width="1"/>
<text x="345.90" y="123.00" font-size="7.6" text-anchor="end" fill="#222" stroke="#222" stroke-width="0.2">100</text>
<line x1="348.50" y1="81.10" x2="352.00" y2="81.10" stroke="#111" stroke-width="1"/>
<text x="345.90" y="83.70" font-size="7.6" text-anchor="end" fill="#222" stroke="#222" stroke-width="0.2">150</text>
<line x1="368.00" y1="199.00" x2="368.00" y2="201.80" stroke="#111" stroke-width="1"/>
<text x="368.00" y="212.40" font-size="7.6" text-anchor="middle" fill="#222" stroke="#222" stroke-width="0.2">0</text>
<line x1="400.20" y1="199.00" x2="400.20" y2="201.80" stroke="#111" stroke-width="1"/>
<text x="400.20" y="212.40" font-size="7.6" text-anchor="middle" fill="#222" stroke="#222" stroke-width="0.2">2</text>
<line x1="432.40" y1="199.00" x2="432.40" y2="201.80" stroke="#111" stroke-width="1"/>
<text x="432.40" y="212.40" font-size="7.6" text-anchor="middle" fill="#222" stroke="#222" stroke-width="0.2">24</text>
<line x1="464.60" y1="199.00" x2="464.60" y2="201.80" stroke="#111" stroke-width="1"/>
<text x="464.60" y="212.40" font-size="7.6" text-anchor="middle" fill="#222" stroke="#222" stroke-width="0.2">48</text>
<line x1="496.80" y1="199.00" x2="496.80" y2="201.80" stroke="#111" stroke-width="1"/>
<text x="496.80" y="212.40" font-size="7.6" text-anchor="middle" fill="#222" stroke="#222" stroke-width="0.2">72</text>
<text x="431.85" y="225.00" font-size="9.8" text-anchor="middle" fill="#222" stroke="#222" stroke-width="0.2" textLength="122.3" lengthAdjust="spacingAndGlyphs">Time after antibody injection (h)</text>
<text x="326.90" y="137.60" font-size="10" text-anchor="middle" fill="#222" stroke="#222" stroke-width="0.2" textLength="80" lengthAdjust="spacingAndGlyphs" transform="rotate(-90 326.90 137.60)">% PKH26+ HOD-RBC</text>
<line x1="400.20" y1="142.00" x2="400.20" y2="154.60" stroke="#111" stroke-width="1.1"/>
<line x1="397.00" y1="142.00" x2="403.40" y2="142.00" stroke="#111" stroke-width="1.4"/>
<line x1="397.00" y1="154.60" x2="403.40" y2="154.60" stroke="#111" stroke-width="1.4"/>
<line x1="432.40" y1="147.40" x2="432.40" y2="160.00" stroke="#111" stroke-width="1.1"/>
<line x1="429.20" y1="147.40" x2="435.60" y2="147.40" stroke="#111" stroke-width="1.4"/>
<line x1="429.20" y1="160.00" x2="435.60" y2="160.00" stroke="#111" stroke-width="1.4"/>
<line x1="464.60" y1="145.60" x2="464.60" y2="157.40" stroke="#111" stroke-width="1.1"/>
<line x1="461.40" y1="145.60" x2="467.80" y2="145.60" stroke="#111" stroke-width="1.4"/>
<line x1="461.40" y1="157.40" x2="467.80" y2="157.40" stroke="#111" stroke-width="1.4"/>
<line x1="496.80" y1="159.80" x2="496.80" y2="170.80" stroke="#111" stroke-width="1.1"/>
<line x1="493.60" y1="159.80" x2="500.00" y2="159.80" stroke="#111" stroke-width="1.4"/>
<line x1="493.60" y1="170.80" x2="500.00" y2="170.80" stroke="#111" stroke-width="1.4"/>
<line x1="400.20" y1="161.50" x2="400.20" y2="170.00" stroke="#111" stroke-width="1.1"/>
<line x1="397.00" y1="161.50" x2="403.40" y2="161.50" stroke="#111" stroke-width="1.4"/>
<line x1="397.00" y1="170.00" x2="403.40" y2="170.00" stroke="#111" stroke-width="1.4"/>
<line x1="432.40" y1="177.00" x2="432.40" y2="193.00" stroke="#111" stroke-width="1.1"/>
<line x1="429.20" y1="177.00" x2="435.60" y2="177.00" stroke="#111" stroke-width="1.4"/>
<line x1="429.20" y1="193.00" x2="435.60" y2="193.00" stroke="#111" stroke-width="1.4"/>
<line x1="464.60" y1="186.80" x2="464.60" y2="196.60" stroke="#111" stroke-width="1.1"/>
<line x1="461.40" y1="186.80" x2="467.80" y2="186.80" stroke="#111" stroke-width="1.4"/>
<line x1="461.40" y1="196.60" x2="467.80" y2="196.60" stroke="#111" stroke-width="1.4"/>
<line x1="496.80" y1="190.00" x2="496.80" y2="198.00" stroke="#111" stroke-width="1.1"/>
<line x1="493.60" y1="190.00" x2="500.00" y2="190.00" stroke="#111" stroke-width="1.4"/>
<line x1="493.60" y1="198.00" x2="500.00" y2="198.00" stroke="#111" stroke-width="1.4"/>
<line x1="400.20" y1="123.50" x2="400.20" y2="131.50" stroke="#111" stroke-width="1.1"/>
<line x1="397.00" y1="123.50" x2="403.40" y2="123.50" stroke="#111" stroke-width="1.4"/>
<line x1="397.00" y1="131.50" x2="403.40" y2="131.50" stroke="#111" stroke-width="1.4"/>
<line x1="432.40" y1="120.80" x2="432.40" y2="130.00" stroke="#111" stroke-width="1.1"/>
<line x1="429.20" y1="120.80" x2="435.60" y2="120.80" stroke="#111" stroke-width="1.4"/>
<line x1="429.20" y1="130.00" x2="435.60" y2="130.00" stroke="#111" stroke-width="1.4"/>
<line x1="464.60" y1="117.40" x2="464.60" y2="132.90" stroke="#111" stroke-width="1.1"/>
<line x1="461.40" y1="117.40" x2="467.80" y2="117.40" stroke="#111" stroke-width="1.4"/>
<line x1="461.40" y1="132.90" x2="467.80" y2="132.90" stroke="#111" stroke-width="1.4"/>
<line x1="496.80" y1="134.50" x2="496.80" y2="142.70" stroke="#111" stroke-width="1.1"/>
<line x1="493.60" y1="134.50" x2="500.00" y2="134.50" stroke="#111" stroke-width="1.4"/>
<line x1="493.60" y1="142.70" x2="500.00" y2="142.70" stroke="#111" stroke-width="1.4"/>
<polyline points="368.00,120.40 400.20,147.91 432.40,153.41 464.60,151.84 496.80,165.20" fill="none" stroke="#e2a12c" stroke-width="1.8" stroke-linejoin="round"/>
<circle cx="400.20" cy="147.91" r="2.3" fill="#f3d070" stroke="#e2a12c" stroke-width="1.2"/>
<circle cx="432.40" cy="153.41" r="2.3" fill="#f3d070" stroke="#e2a12c" stroke-width="1.2"/>
<circle cx="464.60" cy="151.84" r="2.3" fill="#f3d070" stroke="#e2a12c" stroke-width="1.2"/>
<circle cx="496.80" cy="165.20" r="2.3" fill="#f3d070" stroke="#e2a12c" stroke-width="1.2"/>
<polyline points="368.00,120.40 400.20,176.99 432.40,182.49 464.60,183.28 496.80,185.64" fill="none" stroke="#6cb246" stroke-width="1.8" stroke-linejoin="round"/>
<circle cx="400.20" cy="176.99" r="2.5" fill="#6cb246"/>
<circle cx="432.40" cy="182.49" r="2.5" fill="#6cb246"/>
<circle cx="464.60" cy="183.28" r="2.5" fill="#6cb246"/>
<circle cx="496.80" cy="185.64" r="2.5" fill="#6cb246"/>
<polyline points="368.00,120.40 400.20,165.99 432.40,184.85 464.60,191.93 496.80,194.28" fill="none" stroke="#2a4a8e" stroke-width="1.8" stroke-linejoin="round"/>
<rect x="397.60" y="163.39" width="5.2" height="5.2" fill="#2a4a8e"/>
<rect x="429.80" y="182.25" width="5.2" height="5.2" fill="#2a4a8e"/>
<rect x="462.00" y="189.33" width="5.2" height="5.2" fill="#2a4a8e"/>
<rect x="494.20" y="191.68" width="5.2" height="5.2" fill="#2a4a8e"/>
<polyline points="368.00,120.40 400.20,127.47 432.40,125.51 464.60,125.51 496.80,147.91" fill="none" stroke="#4e3874" stroke-width="1.8" stroke-linejoin="round"/>
<rect x="397.90" y="125.17" width="4.6" height="4.6" fill="#fff" stroke="#4e3874" stroke-width="1.2"/>
<rect x="430.10" y="123.21" width="4.6" height="4.6" fill="#fff" stroke="#4e3874" stroke-width="1.2"/>
<rect x="462.30" y="123.21" width="4.6" height="4.6" fill="#fff" stroke="#4e3874" stroke-width="1.2"/>
<rect x="494.50" y="145.61" width="4.6" height="4.6" fill="#fff" stroke="#4e3874" stroke-width="1.2"/>
<polyline points="368.00,120.40 400.20,128.26 432.40,125.12 464.60,125.12 496.80,139.26" fill="none" stroke="#96163a" stroke-width="1.8" stroke-linejoin="round"/>
<polygon points="368.00,117.10 371.10,122.60 364.90,122.60" fill="#96163a"/>
<polygon points="400.20,124.96 403.30,130.46 397.10,130.46" fill="#96163a"/>
<polygon points="432.40,121.82 435.50,127.32 429.30,127.32" fill="#96163a"/>
<polygon points="464.60,121.82 467.70,127.32 461.50,127.32" fill="#96163a"/>
<polygon points="496.80,135.96 499.90,141.46 493.70,141.46" fill="#96163a"/>
<rect x="365.6" y="118.1" width="4.8" height="4.8" fill="#7a2a4a"/>
<line x1="361.50" y1="73.20" x2="372.90" y2="73.20" stroke="#96163a" stroke-width="1.8"/>
<polygon points="367.20,69.90 370.30,75.40 364.10,75.40" fill="#96163a"/>
<text x="376.40" y="76.20" font-size="8.4" text-anchor="start" fill="#222" stroke="#222" stroke-width="0.2">HOD</text>
<line x1="361.50" y1="85.40" x2="372.90" y2="85.40" stroke="#2a4a8e" stroke-width="1.8"/>
<rect x="364.60" y="82.80" width="5.2" height="5.2" fill="#2a4a8e"/>
<text x="376.40" y="88.40" font-size="8.4" text-anchor="start" fill="#222" stroke="#222" stroke-width="0.2">CBC512 5 μg</text>
<line x1="361.50" y1="97.70" x2="372.90" y2="97.70" stroke="#4e3874" stroke-width="1.8"/>
<rect x="364.90" y="95.40" width="4.6" height="4.6" fill="#fff" stroke="#4e3874" stroke-width="1.2"/>
<text x="376.40" y="100.70" font-size="8.4" text-anchor="start" fill="#222" stroke="#222" stroke-width="0.2">deCBC512</text>
<line x1="434.60" y1="85.40" x2="446.00" y2="85.40" stroke="#6cb246" stroke-width="1.8"/>
<circle cx="440.30" cy="85.40" r="2.5" fill="#6cb246"/>
<text x="450.60" y="88.40" font-size="8.4" text-anchor="start" fill="#222" stroke="#222" stroke-width="0.2">MIMA29</text>
<line x1="434.60" y1="97.70" x2="446.00" y2="97.70" stroke="#e2a12c" stroke-width="1.8"/>
<circle cx="440.30" cy="97.70" r="2.3" fill="#f3d070" stroke="#e2a12c" stroke-width="1.2"/>
<text x="450.60" y="100.70" font-size="8.4" text-anchor="start" fill="#222" stroke="#222" stroke-width="0.2">deMIMA29</text>
<line x1="40.40" y1="270.40" x2="40.40" y2="391.60" stroke="#111" stroke-width="1.2"/>
<line x1="37.50" y1="391.60" x2="418.50" y2="391.60" stroke="#111" stroke-width="1.2"/>
<line x1="37.00" y1="391.60" x2="40.40" y2="391.60" stroke="#111" stroke-width="1"/>
<text x="34.20" y="394.50" font-size="8.0" text-anchor="end" fill="#222" stroke="#222" stroke-width="0.2">0</text>
<line x1="37.00" y1="367.80" x2="40.40" y2="367.80" stroke="#111" stroke-width="1"/>
<text x="34.20" y="370.70" font-size="8.0" text-anchor="end" fill="#222" stroke="#222" stroke-width="0.2">1</text>
<line x1="37.00" y1="344.00" x2="40.40" y2="344.00" stroke="#111" stroke-width="1"/>
<text x="34.20" y="346.90" font-size="8.0" text-anchor="end" fill="#222" stroke="#222" stroke-width="0.2">2</text>
<line x1="37.00" y1="320.20" x2="40.40" y2="320.20" stroke="#111" stroke-width="1"/>
<text x="34.20" y="323.10" font-size="8.0" text-anchor="end" fill="#222" stroke="#222" stroke-width="0.2">3</text>
<line x1="37.00" y1="296.40" x2="40.40" y2="296.40" stroke="#111" stroke-width="1"/>
<text x="34.20" y="299.30" font-size="8.0" text-anchor="end" fill="#222" stroke="#222" stroke-width="0.2">4</text>
<line x1="37.00" y1="272.60" x2="40.40" y2="272.60" stroke="#111" stroke-width="1"/>
<text x="34.20" y="275.50" font-size="8.0" text-anchor="end" fill="#222" stroke="#222" stroke-width="0.2">5</text>
<line x1="87.80" y1="391.60" x2="87.80" y2="394.60" stroke="#111" stroke-width="0.9"/>
<text x="87.80" y="404.60" font-size="8.1" text-anchor="middle" fill="#222" stroke="#222" stroke-width="0.2">naive</text>
<line x1="144.30" y1="391.60" x2="144.30" y2="394.60" stroke="#111" stroke-width="0.9"/>
<text x="144.30" y="404.60" font-size="8.1" text-anchor="middle" fill="#222" stroke="#222" stroke-width="0.2">HOD</text>
<line x1="200.80" y1="391.60" x2="200.80" y2="394.60" stroke="#111" stroke-width="0.9"/>
<text x="200.80" y="404.60" font-size="8.1" text-anchor="middle" fill="#222" stroke="#222" stroke-width="0.2">CBC-512</text>
<line x1="257.30" y1="391.60" x2="257.30" y2="394.60" stroke="#111" stroke-width="0.9"/>
<text x="257.30" y="404.60" font-size="8.1" text-anchor="middle" fill="#222" stroke="#222" stroke-width="0.2">deCBC-512</text>
<line x1="313.80" y1="391.60" x2="313.80" y2="394.60" stroke="#111" stroke-width="0.9"/>
<text x="313.80" y="404.60" font-size="8.1" text-anchor="middle" fill="#222" stroke="#222" stroke-width="0.2">MIMA29</text>
<line x1="370.30" y1="391.60" x2="370.30" y2="394.60" stroke="#111" stroke-width="0.9"/>
<text x="370.30" y="404.60" font-size="8.1" text-anchor="middle" fill="#222" stroke="#222" stroke-width="0.2">deMIMA29</text>
<text x="24.30" y="330.60" font-size="9.8" text-anchor="middle" fill="#222" stroke="#222" stroke-width="0.2" textLength="61" lengthAdjust="spacingAndGlyphs" transform="rotate(-90 24.30 330.60)">IgM absorbance</text>
<line x1="145.70" y1="273.10" x2="373.90" y2="273.10" stroke="#1a1a1a" stroke-width="1.1"/>
<circle cx="256.80" cy="268.70" r="0.8" fill="#1a1a1a"/>
<circle cx="259.90" cy="268.70" r="0.8" fill="#1a1a1a"/>
<circle cx="263.00" cy="268.70" r="0.8" fill="#1a1a1a"/>
<line x1="145.70" y1="287.70" x2="315.10" y2="287.70" stroke="#1a1a1a" stroke-width="1.1"/>
<circle cx="225.65" cy="283.70" r="0.8" fill="#1a1a1a"/>
<circle cx="228.75" cy="283.70" r="0.8" fill="#1a1a1a"/>
<circle cx="231.85" cy="283.70" r="0.8" fill="#1a1a1a"/>
<circle cx="234.95" cy="283.70" r="0.8" fill="#1a1a1a"/>
<line x1="145.70" y1="300.20" x2="257.30" y2="300.20" stroke="#1a1a1a" stroke-width="1.1"/>
<circle cx="196.95" cy="296.00" r="0.8" fill="#1a1a1a"/>
<circle cx="200.05" cy="296.00" r="0.8" fill="#1a1a1a"/>
<circle cx="203.15" cy="296.00" r="0.8" fill="#1a1a1a"/>
<circle cx="206.25" cy="296.00" r="0.8" fill="#1a1a1a"/>
<line x1="145.70" y1="310.10" x2="203.30" y2="310.10" stroke="#1a1a1a" stroke-width="1.1"/>
<circle cx="170.15" cy="305.90" r="0.8" fill="#1a1a1a"/>
<circle cx="173.25" cy="305.90" r="0.8" fill="#1a1a1a"/>
<circle cx="176.35" cy="305.90" r="0.8" fill="#1a1a1a"/>
<circle cx="179.45" cy="305.90" r="0.8" fill="#1a1a1a"/>
<line x1="89.50" y1="318.40" x2="145.70" y2="318.40" stroke="#1a1a1a" stroke-width="1.1"/>
<circle cx="113.38" cy="314.20" r="0.8" fill="#1a1a1a"/>
<circle cx="116.33" cy="314.20" r="0.8" fill="#1a1a1a"/>
<circle cx="119.27" cy="314.20" r="0.8" fill="#1a1a1a"/>
<circle cx="122.22" cy="314.20" r="0.8" fill="#1a1a1a"/>
<line x1="204.40" y1="319.00" x2="257.80" y2="319.00" stroke="#1a1a1a" stroke-width="1.1"/>
<text x="231.50" y="316.00" font-size="7.2" text-anchor="middle" fill="#222" stroke="#222" stroke-width="0.2">ns</text>
<line x1="313.40" y1="317.80" x2="373.20" y2="317.80" stroke="#1a1a1a" stroke-width="1.1"/>
<circle cx="338.45" cy="313.60" r="0.8" fill="#1a1a1a"/>
<circle cx="341.55" cy="313.60" r="0.8" fill="#1a1a1a"/>
<circle cx="344.65" cy="313.60" r="0.8" fill="#1a1a1a"/>
<circle cx="347.75" cy="313.60" r="0.8" fill="#1a1a1a"/>
<circle cx="75.10" cy="391.20" r="1.9" fill="none" stroke="#861f3e" stroke-width="1.1"/>
<circle cx="81.30" cy="391.20" r="1.9" fill="none" stroke="#861f3e" stroke-width="1.1"/>
<circle cx="87.60" cy="391.20" r="1.9" fill="none" stroke="#861f3e" stroke-width="1.1"/>
<circle cx="93.80" cy="391.20" r="1.9" fill="none" stroke="#861f3e" stroke-width="1.1"/>
<circle cx="100.40" cy="390.10" r="1.9" fill="none" stroke="#861f3e" stroke-width="1.1"/>
<circle cx="141.00" cy="328.80" r="1.9" fill="none" stroke="#861f3e" stroke-width="1.1"/>
<circle cx="147.70" cy="332.90" r="1.9" fill="none" stroke="#861f3e" stroke-width="1.1"/>
<circle cx="138.00" cy="345.70" r="1.9" fill="none" stroke="#861f3e" stroke-width="1.1"/>
<circle cx="144.30" cy="351.50" r="1.9" fill="none" stroke="#861f3e" stroke-width="1.1"/>
<circle cx="150.60" cy="351.50" r="1.9" fill="none" stroke="#861f3e" stroke-width="1.1"/>
<circle cx="144.30" cy="359.10" r="1.9" fill="none" stroke="#861f3e" stroke-width="1.1"/>
<circle cx="144.30" cy="370.80" r="1.9" fill="none" stroke="#861f3e" stroke-width="1.1"/>
<line x1="125.90" y1="348.40" x2="162.50" y2="348.40" stroke="#111" stroke-width="1.3"/>
<line x1="144.30" y1="343.00" x2="144.30" y2="353.30" stroke="#111" stroke-width="1.1"/>
<line x1="135.30" y1="343.00" x2="153.30" y2="343.00" stroke="#111" stroke-width="1.2"/>
<line x1="135.30" y1="353.30" x2="153.30" y2="353.30" stroke="#111" stroke-width="1.2"/>
<circle cx="185.20" cy="391.00" r="1.9" fill="none" stroke="#861f3e" stroke-width="1.1"/>
<circle cx="190.38" cy="391.00" r="1.9" fill="none" stroke="#861f3e" stroke-width="1.1"/>
<circle cx="195.56" cy="391.00" r="1.9" fill="none" stroke="#861f3e" stroke-width="1.1"/>
<circle cx="200.74" cy="391.00" r="1.9" fill="none" stroke="#861f3e" stroke-width="1.1"/>
<circle cx="205.92" cy="391.00" r="1.9" fill="none" stroke="#861f3e" stroke-width="1.1"/>
<circle cx="211.10" cy="391.00" r="1.9" fill="none" stroke="#861f3e" stroke-width="1.1"/>
<circle cx="216.28" cy="389.80" r="1.9" fill="none" stroke="#861f3e" stroke-width="1.1"/>
<circle cx="241.50" cy="391.00" r="1.9" fill="none" stroke="#861f3e" stroke-width="1.1"/>
<circle cx="247.86" cy="391.00" r="1.9" fill="none" stroke="#861f3e" stroke-width="1.1"/>
<circle cx="254.22" cy="391.00" r="1.9" fill="none" stroke="#861f3e" stroke-width="1.1"/>
<circle cx="260.58" cy="391.00" r="1.9" fill="none" stroke="#861f3e" stroke-width="1.1"/>
<circle cx="266.94" cy="391.00" r="1.9" fill="none" stroke="#861f3e" stroke-width="1.1"/>
<circle cx="273.30" cy="391.00" r="1.9" fill="none" stroke="#861f3e" stroke-width="1.1"/>
<circle cx="297.60" cy="390.80" r="1.9" fill="none" stroke="#861f3e" stroke-width="1.1"/>
<circle cx="300.90" cy="390.80" r="1.9" fill="none" stroke="#861f3e" stroke-width="1.1"/>
<circle cx="304.20" cy="390.80" r="1.9" fill="none" stroke="#861f3e" stroke-width="1.1"/>
<circle cx="307.50" cy="390.80" r="1.9" fill="none" stroke="#861f3e" stroke-width="1.1"/>
<circle cx="310.80" cy="390.80" r="1.9" fill="none" stroke="#861f3e" stroke-width="1.1"/>
<circle cx="314.10" cy="390.80" r="1.9" fill="none" stroke="#861f3e" stroke-width="1.1"/>
<circle cx="317.40" cy="390.80" r="1.9" fill="none" stroke="#861f3e" stroke-width="1.1"/>
<circle cx="320.70" cy="390.80" r="1.9" fill="none" stroke="#861f3e" stroke-width="1.1"/>
<circle cx="324.00" cy="390.80" r="1.9" fill="none" stroke="#861f3e" stroke-width="1.1"/>
<circle cx="327.30" cy="390.80" r="1.9" fill="none" stroke="#861f3e" stroke-width="1.1"/>
<circle cx="330.60" cy="390.80" r="1.9" fill="none" stroke="#861f3e" stroke-width="1.1"/>
<circle cx="371.40" cy="344.40" r="1.9" fill="none" stroke="#861f3e" stroke-width="1.1"/>
<circle cx="368.00" cy="364.60" r="1.9" fill="none" stroke="#861f3e" stroke-width="1.1"/>
<circle cx="374.50" cy="364.60" r="1.9" fill="none" stroke="#861f3e" stroke-width="1.1"/>
<circle cx="364.50" cy="373.60" r="1.9" fill="none" stroke="#861f3e" stroke-width="1.1"/>
<circle cx="377.50" cy="375.90" r="1.9" fill="none" stroke="#861f3e" stroke-width="1.1"/>
<circle cx="370.60" cy="379.30" r="1.9" fill="none" stroke="#861f3e" stroke-width="1.1"/>
<line x1="352.60" y1="366.90" x2="381.40" y2="366.90" stroke="#111" stroke-width="1.3"/>
<line x1="371.00" y1="362.00" x2="371.00" y2="372.40" stroke="#111" stroke-width="1.1"/>
<line x1="362.30" y1="362.00" x2="379.80" y2="362.00" stroke="#111" stroke-width="1.2"/>
<line x1="362.30" y1="372.40" x2="379.80" y2="372.40" stroke="#111" stroke-width="1.2"/>
<line x1="40.40" y1="444.20" x2="40.40" y2="567.80" stroke="#111" stroke-width="1.2"/>
<line x1="37.50" y1="567.80" x2="415.50" y2="567.80" stroke="#111" stroke-width="1.2"/>
<line x1="37.00" y1="567.80" x2="40.40" y2="567.80" stroke="#111" stroke-width="1"/>
<text x="34.20" y="570.70" font-size="8.0" text-anchor="end" fill="#222" stroke="#222" stroke-width="0.2">0.0</text>
<line x1="37.00" y1="543.48" x2="40.40" y2="543.48" stroke="#111" stroke-width="1"/>
<text x="34.20" y="546.38" font-size="8.0" text-anchor="end" fill="#222" stroke="#222" stroke-width="0.2">0.2</text>
<line x1="37.00" y1="519.16" x2="40.40" y2="519.16" stroke="#111" stroke-width="1"/>
<text x="34.20" y="522.06" font-size="8.0" text-anchor="end" fill="#222" stroke="#222" stroke-width="0.2">0.4</text>
<line x1="37.00" y1="494.84" x2="40.40" y2="494.84" stroke="#111" stroke-width="1"/>
<text x="34.20" y="497.74" font-size="8.0" text-anchor="end" fill="#222" stroke="#222" stroke-width="0.2">0.6</text>
<line x1="37.00" y1="470.52" x2="40.40" y2="470.52" stroke="#111" stroke-width="1"/>
<text x="34.20" y="473.42" font-size="8.0" text-anchor="end" fill="#222" stroke="#222" stroke-width="0.2">0.8</text>
<line x1="37.00" y1="446.20" x2="40.40" y2="446.20" stroke="#111" stroke-width="1"/>
<text x="34.20" y="449.10" font-size="8.0" text-anchor="end" fill="#222" stroke="#222" stroke-width="0.2">1.0</text>
<line x1="87.80" y1="567.80" x2="87.80" y2="570.80" stroke="#111" stroke-width="0.9"/>
<text x="87.80" y="580.90" font-size="8.1" text-anchor="middle" fill="#222" stroke="#222" stroke-width="0.2">naive</text>
<line x1="144.30" y1="567.80" x2="144.30" y2="570.80" stroke="#111" stroke-width="0.9"/>
<text x="144.30" y="580.90" font-size="8.1" text-anchor="middle" fill="#222" stroke="#222" stroke-width="0.2">HOD</text>
<line x1="200.80" y1="567.80" x2="200.80" y2="570.80" stroke="#111" stroke-width="0.9"/>
<text x="200.80" y="580.90" font-size="8.1" text-anchor="middle" fill="#222" stroke="#222" stroke-width="0.2">CBC-512</text>
<line x1="257.30" y1="567.80" x2="257.30" y2="570.80" stroke="#111" stroke-width="0.9"/>
<text x="257.30" y="580.90" font-size="8.1" text-anchor="middle" fill="#222" stroke="#222" stroke-width="0.2">deCBC-512</text>
<line x1="313.80" y1="567.80" x2="313.80" y2="570.80" stroke="#111" stroke-width="0.9"/>
<text x="313.80" y="580.90" font-size="8.1" text-anchor="middle" fill="#222" stroke="#222" stroke-width="0.2">MIMA29</text>
<line x1="370.30" y1="567.80" x2="370.30" y2="570.80" stroke="#111" stroke-width="0.9"/>
<text x="370.30" y="580.90" font-size="8.1" text-anchor="middle" fill="#222" stroke="#222" stroke-width="0.2">deMIMA29</text>
<text x="17.50" y="505.50" font-size="9.8" text-anchor="middle" fill="#222" stroke="#222" stroke-width="0.2" textLength="59" lengthAdjust="spacingAndGlyphs" transform="rotate(-90 17.50 505.50)">IgG absorbance</text>
<line x1="143.30" y1="448.20" x2="371.50" y2="448.20" stroke="#1a1a1a" stroke-width="1.1"/>
<circle cx="253.30" cy="444.40" r="1.0" fill="#1a1a1a"/>
<circle cx="257.50" cy="444.40" r="1.0" fill="#1a1a1a"/>
<circle cx="261.70" cy="444.40" r="1.0" fill="#1a1a1a"/>
<line x1="143.30" y1="462.40" x2="312.00" y2="462.40" stroke="#1a1a1a" stroke-width="1.1"/>
<circle cx="221.60" cy="459.40" r="1.0" fill="#1a1a1a"/>
<circle cx="225.80" cy="459.40" r="1.0" fill="#1a1a1a"/>
<circle cx="230.00" cy="459.40" r="1.0" fill="#1a1a1a"/>
<circle cx="234.20" cy="459.40" r="1.0" fill="#1a1a1a"/>
<line x1="143.30" y1="476.40" x2="254.70" y2="476.40" stroke="#1a1a1a" stroke-width="1.1"/>
<circle cx="192.80" cy="472.10" r="1.0" fill="#1a1a1a"/>
<circle cx="197.00" cy="472.10" r="1.0" fill="#1a1a1a"/>
<circle cx="201.20" cy="472.10" r="1.0" fill="#1a1a1a"/>
<circle cx="205.40" cy="472.10" r="1.0" fill="#1a1a1a"/>
<line x1="143.30" y1="488.30" x2="200.60" y2="488.30" stroke="#1a1a1a" stroke-width="1.1"/>
<circle cx="166.20" cy="484.80" r="1.0" fill="#1a1a1a"/>
<circle cx="170.40" cy="484.80" r="1.0" fill="#1a1a1a"/>
<circle cx="174.60" cy="484.80" r="1.0" fill="#1a1a1a"/>
<circle cx="178.80" cy="484.80" r="1.0" fill="#1a1a1a"/>
<line x1="86.20" y1="495.60" x2="141.60" y2="495.60" stroke="#1a1a1a" stroke-width="1.1"/>
<circle cx="107.80" cy="491.50" r="1.0" fill="#1a1a1a"/>
<circle cx="111.80" cy="491.50" r="1.0" fill="#1a1a1a"/>
<circle cx="115.80" cy="491.50" r="1.0" fill="#1a1a1a"/>
<circle cx="119.80" cy="491.50" r="1.0" fill="#1a1a1a"/>
<line x1="203.90" y1="508.50" x2="257.30" y2="508.50" stroke="#1a1a1a" stroke-width="1.1"/>
<text x="229.80" y="505.50" font-size="7.2" text-anchor="middle" fill="#222" stroke="#222" stroke-width="0.2">ns</text>
<line x1="312.70" y1="507.50" x2="372.50" y2="507.50" stroke="#1a1a1a" stroke-width="1.1"/>
<circle cx="339.90" cy="504.50" r="1.0" fill="#1a1a1a"/>
<circle cx="344.10" cy="504.50" r="1.0" fill="#1a1a1a"/>
<rect x="70.40" y="564.00" width="4.4" height="4.4" fill="none" stroke="#861f3e" stroke-width="1.05"/>
<rect x="77.80" y="564.70" width="4.4" height="4.4" fill="none" stroke="#861f3e" stroke-width="1.05"/>
<rect x="85.20" y="564.70" width="4.4" height="4.4" fill="none" stroke="#861f3e" stroke-width="1.05"/>
<rect x="92.60" y="564.70" width="4.4" height="4.4" fill="none" stroke="#861f3e" stroke-width="1.05"/>
<rect x="100.00" y="564.70" width="4.4" height="4.4" fill="none" stroke="#861f3e" stroke-width="1.05"/>
<rect x="137.60" y="504.40" width="4.4" height="4.4" fill="none" stroke="#861f3e" stroke-width="1.05"/>
<rect x="145.20" y="507.70" width="4.4" height="4.4" fill="none" stroke="#861f3e" stroke-width="1.05"/>
<rect x="141.10" y="521.70" width="4.4" height="4.4" fill="none" stroke="#861f3e" stroke-width="1.05"/>
<rect x="133.50" y="533.60" width="4.4" height="4.4" fill="none" stroke="#861f3e" stroke-width="1.05"/>
<rect x="148.70" y="533.60" width="4.4" height="4.4" fill="none" stroke="#861f3e" stroke-width="1.05"/>
<rect x="141.10" y="538.30" width="4.4" height="4.4" fill="none" stroke="#861f3e" stroke-width="1.05"/>
<rect x="141.10" y="550.90" width="4.4" height="4.4" fill="none" stroke="#861f3e" stroke-width="1.05"/>
<line x1="125.40" y1="529.70" x2="163.00" y2="529.70" stroke="#111" stroke-width="1.3"/>
<line x1="143.30" y1="523.20" x2="143.30" y2="535.80" stroke="#111" stroke-width="1.1"/>
<line x1="134.50" y1="523.20" x2="153.10" y2="523.20" stroke="#111" stroke-width="1.2"/>
<line x1="134.50" y1="535.80" x2="153.10" y2="535.80" stroke="#111" stroke-width="1.2"/>
<rect x="182.10" y="564.70" width="4.4" height="4.4" fill="none" stroke="#861f3e" stroke-width="1.05"/>
<rect x="188.22" y="564.70" width="4.4" height="4.4" fill="none" stroke="#861f3e" stroke-width="1.05"/>
<rect x="194.34" y="564.70" width="4.4" height="4.4" fill="none" stroke="#861f3e" stroke-width="1.05"/>
<rect x="200.46" y="564.70" width="4.4" height="4.4" fill="none" stroke="#861f3e" stroke-width="1.05"/>
<rect x="206.58" y="564.70" width="4.4" height="4.4" fill="none" stroke="#861f3e" stroke-width="1.05"/>
<rect x="212.70" y="564.70" width="4.4" height="4.4" fill="none" stroke="#861f3e" stroke-width="1.05"/>
<rect x="236.70" y="564.70" width="4.4" height="4.4" fill="none" stroke="#861f3e" stroke-width="1.05"/>
<rect x="243.20" y="564.70" width="4.4" height="4.4" fill="none" stroke="#861f3e" stroke-width="1.05"/>
<rect x="249.70" y="564.70" width="4.4" height="4.4" fill="none" stroke="#861f3e" stroke-width="1.05"/>
<rect x="256.20" y="564.70" width="4.4" height="4.4" fill="none" stroke="#861f3e" stroke-width="1.05"/>
<rect x="262.70" y="564.70" width="4.4" height="4.4" fill="none" stroke="#861f3e" stroke-width="1.05"/>
<rect x="269.20" y="564.70" width="4.4" height="4.4" fill="none" stroke="#861f3e" stroke-width="1.05"/>
<rect x="296.60" y="565.20" width="4.4" height="4.4" fill="none" stroke="#861f3e" stroke-width="1.05"/>
<rect x="299.95" y="565.20" width="4.4" height="4.4" fill="none" stroke="#861f3e" stroke-width="1.05"/>
<rect x="303.30" y="565.20" width="4.4" height="4.4" fill="none" stroke="#861f3e" stroke-width="1.05"/>
<rect x="306.65" y="565.20" width="4.4" height="4.4" fill="none" stroke="#861f3e" stroke-width="1.05"/>
<rect x="310.00" y="565.20" width="4.4" height="4.4" fill="none" stroke="#861f3e" stroke-width="1.05"/>
<rect x="313.35" y="565.20" width="4.4" height="4.4" fill="none" stroke="#861f3e" stroke-width="1.05"/>
<rect x="316.70" y="565.20" width="4.4" height="4.4" fill="none" stroke="#861f3e" stroke-width="1.05"/>
<rect x="320.05" y="565.20" width="4.4" height="4.4" fill="none" stroke="#861f3e" stroke-width="1.05"/>
<rect x="323.40" y="565.20" width="4.4" height="4.4" fill="none" stroke="#861f3e" stroke-width="1.05"/>
<rect x="313.30" y="564.10" width="4.4" height="4.4" fill="none" stroke="#861f3e" stroke-width="1.05"/>
<rect x="366.20" y="531.50" width="4.4" height="4.4" fill="none" stroke="#861f3e" stroke-width="1.05"/>
<rect x="362.30" y="541.40" width="4.4" height="4.4" fill="none" stroke="#861f3e" stroke-width="1.05"/>
<rect x="369.60" y="547.00" width="4.4" height="4.4" fill="none" stroke="#861f3e" stroke-width="1.05"/>
<rect x="358.20" y="554.80" width="4.4" height="4.4" fill="none" stroke="#861f3e" stroke-width="1.05"/>
<rect x="373.50" y="554.80" width="4.4" height="4.4" fill="none" stroke="#861f3e" stroke-width="1.05"/>
<rect x="365.70" y="557.40" width="4.4" height="4.4" fill="none" stroke="#861f3e" stroke-width="1.05"/>
<line x1="349.80" y1="550.30" x2="387.00" y2="550.30" stroke="#111" stroke-width="1.3"/>
<line x1="368.20" y1="546.00" x2="368.20" y2="553.50" stroke="#111" stroke-width="1.1"/>
<line x1="359.30" y1="546.00" x2="377.40" y2="546.00" stroke="#111" stroke-width="1.2"/>
<line x1="359.30" y1="553.50" x2="377.40" y2="553.50" stroke="#111" stroke-width="1.2"/>
</svg>
</body></html>
